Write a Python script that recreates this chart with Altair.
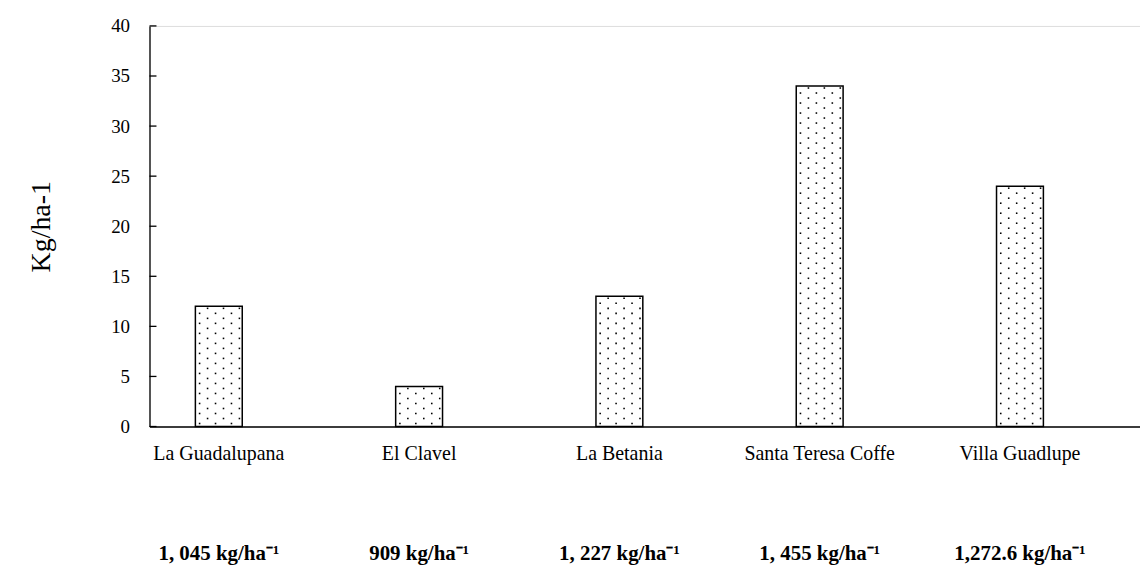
import altair as alt
import pandas as pd

categories = ["La Guadalupana", "El Clavel", "La Betania", "Santa Teresa Coffe", "Villa Guadlupe"]
values = [12, 4, 13, 34, 24]
yields = ["1, 045 kg/ha⁻¹", "909 kg/ha⁻¹", "1, 227 kg/ha⁻¹", "1, 455 kg/ha⁻¹", "1,272.6 kg/ha⁻¹"]
y_ticks = [0, 5, 10, 15, 20, 25, 30, 35, 40]

df = pd.DataFrame({"cat": categories, "val": values, "yld": yields})
ticks_df = pd.DataFrame({"t": y_ticks})

W, H = 994, 402
FONT = "Liberation Serif"

xscale = alt.Scale(domain=categories, paddingInner=0.766, paddingOuter=0.3557, align=0.322)
yscale = alt.Scale(domain=[0, 40], nice=False, zero=True)

x_axis = alt.Axis(title=None, labelAngle=0, ticks=False, labelFont=FONT,
                  labelFontSize=20, labelColor="black", labelPadding=17,
                  domainColor="black", domainWidth=1.3, grid=False)
y_axis = alt.Axis(title="Kg/ha-1", values=y_ticks, ticks=False, grid=False,
                  labelFont=FONT, labelFontSize=19, labelColor="black",
                  labelPadding=20, titleFont=FONT, titleFontSize=28,
                  titleFontWeight="normal", titleColor="black", titlePadding=55,
                  domainColor="black", domainWidth=1.3)


def xenc(**kw):
    return alt.X("cat:N", scale=xscale, sort=categories, axis=x_axis, **kw)


def yenc(field):
    return alt.Y(field, scale=yscale, axis=y_axis)


base = alt.Chart(df)

bars = base.mark_bar(fill="white", stroke="black", strokeWidth=1.5).encode(
    x=xenc(), y=yenc("val:Q"),
)

# dotted fill pattern (decoration): staggered rows of dots inside each bar
pattern = [(0, 0.09), (0, 0.43), (0, 0.77), (1, 0.26), (1, 0.60), (1, 0.94)]
dot_layers = []
for parity, frac in pattern:
    dot_layers.append(
        base.transform_calculate(r="sequence(0.3, datum.val - 0.1, 0.5)")
        .transform_flatten(["r"])
        .transform_filter(f"round((datum.r - 0.3) / 0.5) % 2 == {parity}")
        .mark_square(size=2.5, color="black", opacity=1)
        .encode(x=xenc(bandPosition=frac), y=yenc("r:Q"))
    )

ticks = alt.Chart(ticks_df).mark_rule(color="black", strokeWidth=1.3).encode(
    y=yenc("t:Q"),
    x=alt.value(0),
    x2=alt.value(7),
)

labels = base.mark_text(font=FONT, fontSize=21, fontWeight="bold", color="black").encode(
    x=xenc(),
    y=alt.value(530),
    text="yld:N",
)

chart = alt.layer(bars, *dot_layers, ticks, labels).properties(
    width=W, height=H,
    padding={"left": 20, "top": 8, "right": 0, "bottom": 5},
).configure_view(stroke=None).configure(background="white")

chart.save("out.html", embed_options={"renderer": "svg", "actions": False})
